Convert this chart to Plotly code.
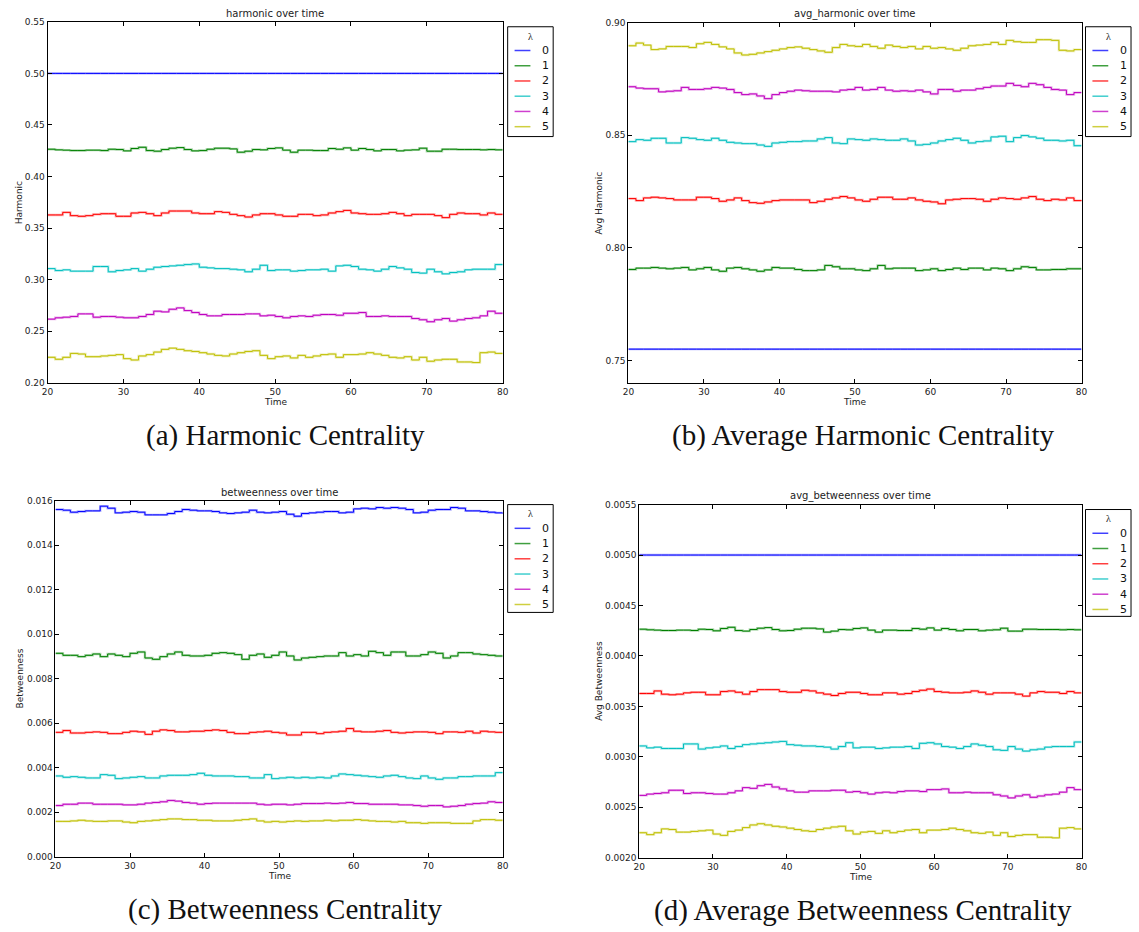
import plotly.graph_objects as go

# ---- data -------------------------------------------------------------
TIME = list(range(20, 81))
LAMBDAS = ["0", "1", "2", "3", "4", "5"]

# harmonic centrality per lambda
harm_0 = [0.5] * len(TIME)
harm_1 = [0.4265, 0.4259, 0.4256, 0.4252, 0.4252, 0.4256, 0.4256, 0.4252, 0.4265, 0.4262,
          0.4249, 0.4272, 0.4284, 0.4252, 0.4246, 0.4262, 0.4275, 0.4281, 0.4262, 0.4249,
          0.4252, 0.4265, 0.4275, 0.4275, 0.4268, 0.4236, 0.4246, 0.4262, 0.4259, 0.4272,
          0.4278, 0.4256, 0.4236, 0.4256, 0.4256, 0.4252, 0.4252, 0.4272, 0.4265, 0.4278,
          0.4256, 0.4272, 0.4262, 0.4249, 0.4262, 0.4262, 0.4249, 0.4256, 0.4259, 0.4275,
          0.4246, 0.4246, 0.4265, 0.4265, 0.4262, 0.4262, 0.4262, 0.4259, 0.4262, 0.4259,
          0.4259]
harm_2 = [0.3628, 0.3628, 0.3653, 0.3621, 0.3615, 0.3621, 0.3634, 0.3640, 0.3640, 0.3615,
          0.3615, 0.3647, 0.3653, 0.3640, 0.3621, 0.3647, 0.3666, 0.3666, 0.3666, 0.3647,
          0.3640, 0.3640, 0.3660, 0.3653, 0.3634, 0.3621, 0.3608, 0.3628, 0.3640, 0.3640,
          0.3628, 0.3615, 0.3615, 0.3634, 0.3634, 0.3621, 0.3628, 0.3647, 0.3660, 0.3672,
          0.3647, 0.3640, 0.3634, 0.3634, 0.3640, 0.3653, 0.3640, 0.3621, 0.3634, 0.3634,
          0.3634, 0.3621, 0.3602, 0.3634, 0.3647, 0.3640, 0.3640, 0.3628, 0.3647, 0.3634,
          0.3634]
harm_3 = [0.3108, 0.3089, 0.3096, 0.3083, 0.3083, 0.3083, 0.3128, 0.3128, 0.3077, 0.3089,
          0.3096, 0.3108, 0.3083, 0.3102, 0.3121, 0.3128, 0.3134, 0.3140, 0.3147, 0.3153,
          0.3121, 0.3115, 0.3108, 0.3108, 0.3102, 0.3096, 0.3077, 0.3102, 0.3140, 0.3089,
          0.3096, 0.3096, 0.3083, 0.3089, 0.3096, 0.3096, 0.3102, 0.3083, 0.3134, 0.3140,
          0.3128, 0.3102, 0.3096, 0.3083, 0.3102, 0.3128, 0.3115, 0.3102, 0.3070, 0.3064,
          0.3102, 0.3077, 0.3057, 0.3070, 0.3077, 0.3096, 0.3102, 0.3102, 0.3102, 0.3147,
          0.3147]
harm_4 = [0.2618, 0.2631, 0.2637, 0.2644, 0.2669, 0.2669, 0.2637, 0.2644, 0.2644, 0.2637,
          0.2631, 0.2631, 0.2644, 0.2663, 0.2695, 0.2688, 0.2714, 0.2727, 0.2701, 0.2682,
          0.2663, 0.2650, 0.2650, 0.2663, 0.2663, 0.2663, 0.2669, 0.2669, 0.2650, 0.2656,
          0.2644, 0.2631, 0.2644, 0.2650, 0.2644, 0.2656, 0.2663, 0.2663, 0.2656, 0.2675,
          0.2675, 0.2682, 0.2644, 0.2644, 0.2650, 0.2644, 0.2644, 0.2644, 0.2624, 0.2612,
          0.2593, 0.2612, 0.2624, 0.2599, 0.2612, 0.2624, 0.2631, 0.2650, 0.2695, 0.2675,
          0.2675]
harm_5 = [0.2248, 0.2229, 0.2248, 0.2286, 0.2280, 0.2254, 0.2254, 0.2261, 0.2267, 0.2274,
          0.2235, 0.2222, 0.2261, 0.2274, 0.2299, 0.2325, 0.2337, 0.2325, 0.2312, 0.2305,
          0.2293, 0.2280, 0.2267, 0.2261, 0.2280, 0.2293, 0.2305, 0.2312, 0.2267, 0.2235,
          0.2254, 0.2261, 0.2242, 0.2267, 0.2248, 0.2261, 0.2274, 0.2280, 0.2248, 0.2274,
          0.2274, 0.2280, 0.2293, 0.2280, 0.2267, 0.2248, 0.2242, 0.2254, 0.2222, 0.2248,
          0.2210, 0.2222, 0.2229, 0.2229, 0.2203, 0.2203, 0.2197, 0.2293, 0.2299, 0.2286,
          0.2286]

# average harmonic centrality per lambda
avg_harm_0 = [0.755] * len(TIME)
avg_harm_1 = [0.7904, 0.7910, 0.7910, 0.7913, 0.7910, 0.7907, 0.7910, 0.7913, 0.7902, 0.7907,
              0.7913, 0.7902, 0.7896, 0.7910, 0.7913, 0.7907, 0.7902, 0.7896, 0.7902, 0.7913,
              0.7910, 0.7910, 0.7904, 0.7899, 0.7899, 0.7902, 0.7922, 0.7916, 0.7907, 0.7907,
              0.7902, 0.7899, 0.7907, 0.7922, 0.7907, 0.7910, 0.7910, 0.7910, 0.7899, 0.7902,
              0.7907, 0.7899, 0.7904, 0.7910, 0.7904, 0.7910, 0.7910, 0.7902, 0.7910, 0.7907,
              0.7899, 0.7907, 0.7916, 0.7913, 0.7902, 0.7902, 0.7904, 0.7904, 0.7907, 0.7907,
              0.7907]
avg_harm_2 = [0.8219, 0.8210, 0.8222, 0.8225, 0.8222, 0.8219, 0.8213, 0.8213, 0.8213, 0.8225,
              0.8225, 0.8219, 0.8207, 0.8213, 0.8222, 0.8210, 0.8201, 0.8198, 0.8204, 0.8210,
              0.8213, 0.8213, 0.8213, 0.8213, 0.8201, 0.8207, 0.8216, 0.8222, 0.8228, 0.8222,
              0.8213, 0.8207, 0.8216, 0.8225, 0.8225, 0.8216, 0.8216, 0.8222, 0.8213, 0.8207,
              0.8204, 0.8196, 0.8213, 0.8216, 0.8219, 0.8219, 0.8216, 0.8207, 0.8216, 0.8222,
              0.8219, 0.8216, 0.8222, 0.8228, 0.8216, 0.8210, 0.8216, 0.8213, 0.8222, 0.8210,
              0.8213]
avg_harm_3 = [0.8472, 0.8481, 0.8478, 0.8487, 0.8487, 0.8466, 0.8466, 0.8490, 0.8487, 0.8481,
              0.8478, 0.8487, 0.8478, 0.8469, 0.8466, 0.8463, 0.8463, 0.8457, 0.8451, 0.8466,
              0.8469, 0.8472, 0.8472, 0.8475, 0.8475, 0.8484, 0.8490, 0.8466, 0.8463, 0.8484,
              0.8481, 0.8478, 0.8484, 0.8481, 0.8478, 0.8478, 0.8484, 0.8475, 0.8457, 0.8460,
              0.8466, 0.8475, 0.8481, 0.8487, 0.8478, 0.8466, 0.8472, 0.8475, 0.8493, 0.8496,
              0.8472, 0.8490, 0.8499, 0.8493, 0.8487, 0.8478, 0.8478, 0.8475, 0.8478, 0.8454,
              0.8454]
avg_harm_4 = [0.8716, 0.8710, 0.8707, 0.8707, 0.8693, 0.8696, 0.8698, 0.8713, 0.8704, 0.8704,
              0.8707, 0.8713, 0.8710, 0.8704, 0.8690, 0.8681, 0.8684, 0.8675, 0.8663, 0.8681,
              0.8690, 0.8696, 0.8701, 0.8698, 0.8696, 0.8696, 0.8696, 0.8693, 0.8701, 0.8704,
              0.8713, 0.8701, 0.8704, 0.8713, 0.8701, 0.8696, 0.8698, 0.8696, 0.8701, 0.8693,
              0.8684, 0.8704, 0.8704, 0.8696, 0.8701, 0.8701, 0.8707, 0.8713, 0.8719, 0.8719,
              0.8731, 0.8722, 0.8716, 0.8731, 0.8725, 0.8713, 0.8704, 0.8701, 0.8681, 0.8690,
              0.8690]
avg_harm_5 = [0.8898, 0.8910, 0.8901, 0.8881, 0.8884, 0.8895, 0.8895, 0.8895, 0.8890, 0.8907,
              0.8913, 0.8904, 0.8893, 0.8884, 0.8866, 0.8857, 0.8860, 0.8866, 0.8872, 0.8878,
              0.8884, 0.8890, 0.8893, 0.8887, 0.8881, 0.8875, 0.8869, 0.8890, 0.8904, 0.8898,
              0.8895, 0.8904, 0.8895, 0.8887, 0.8901, 0.8895, 0.8890, 0.8895, 0.8884, 0.8895,
              0.8887, 0.8890, 0.8884, 0.8878, 0.8887, 0.8898, 0.8901, 0.8904, 0.8913, 0.8904,
              0.8922, 0.8916, 0.8913, 0.8913, 0.8925, 0.8925, 0.8922, 0.8878, 0.8875, 0.8881,
              0.8881]

# betweenness centrality per lambda
betw_0 = [0.01560, 0.01557, 0.01548, 0.01551, 0.01554, 0.01554, 0.01575, 0.01566, 0.01545, 0.01548,
          0.01551, 0.01548, 0.01536, 0.01536, 0.01536, 0.01542, 0.01551, 0.01560, 0.01557, 0.01554,
          0.01554, 0.01551, 0.01545, 0.01542, 0.01545, 0.01548, 0.01557, 0.01548, 0.01545, 0.01548,
          0.01551, 0.01539, 0.01530, 0.01542, 0.01545, 0.01548, 0.01551, 0.01551, 0.01545, 0.01548,
          0.01563, 0.01566, 0.01563, 0.01569, 0.01566, 0.01569, 0.01566, 0.01560, 0.01545, 0.01548,
          0.01557, 0.01560, 0.01560, 0.01569, 0.01566, 0.01554, 0.01554, 0.01551, 0.01548, 0.01545,
          0.01542]
betw_1 = [0.00914, 0.00905, 0.00905, 0.00899, 0.00905, 0.00911, 0.00899, 0.00911, 0.00905, 0.00899,
          0.00914, 0.00920, 0.00893, 0.00887, 0.00899, 0.00911, 0.00920, 0.00905, 0.00902, 0.00902,
          0.00905, 0.00914, 0.00917, 0.00914, 0.00908, 0.00887, 0.00905, 0.00911, 0.00896, 0.00905,
          0.00920, 0.00902, 0.00884, 0.00893, 0.00896, 0.00899, 0.00902, 0.00902, 0.00917, 0.00902,
          0.00908, 0.00902, 0.00923, 0.00917, 0.00905, 0.00920, 0.00920, 0.00902, 0.00902, 0.00908,
          0.00920, 0.00914, 0.00893, 0.00902, 0.00917, 0.00917, 0.00911, 0.00908, 0.00905, 0.00902,
          0.00902]
betw_2 = [0.00559, 0.00567, 0.00556, 0.00556, 0.00559, 0.00561, 0.00559, 0.00553, 0.00553, 0.00559,
          0.00564, 0.00561, 0.00550, 0.00564, 0.00570, 0.00567, 0.00561, 0.00561, 0.00564, 0.00564,
          0.00567, 0.00570, 0.00567, 0.00559, 0.00553, 0.00553, 0.00559, 0.00561, 0.00564, 0.00559,
          0.00556, 0.00547, 0.00547, 0.00559, 0.00559, 0.00553, 0.00559, 0.00561, 0.00564, 0.00576,
          0.00564, 0.00561, 0.00561, 0.00564, 0.00567, 0.00559, 0.00556, 0.00559, 0.00561, 0.00561,
          0.00559, 0.00553, 0.00561, 0.00561, 0.00559, 0.00564, 0.00556, 0.00564, 0.00561, 0.00559,
          0.00559]
betw_3 = [0.00363, 0.00357, 0.00360, 0.00357, 0.00354, 0.00354, 0.00369, 0.00366, 0.00351, 0.00354,
          0.00357, 0.00360, 0.00354, 0.00354, 0.00363, 0.00366, 0.00366, 0.00366, 0.00369, 0.00375,
          0.00366, 0.00363, 0.00363, 0.00363, 0.00360, 0.00360, 0.00354, 0.00354, 0.00369, 0.00351,
          0.00354, 0.00357, 0.00354, 0.00357, 0.00354, 0.00357, 0.00354, 0.00363, 0.00372, 0.00369,
          0.00366, 0.00363, 0.00360, 0.00357, 0.00363, 0.00366, 0.00360, 0.00354, 0.00351, 0.00363,
          0.00354, 0.00348, 0.00354, 0.00354, 0.00360, 0.00360, 0.00363, 0.00363, 0.00363, 0.00378,
          0.00378]
betw_4 = [0.00230, 0.00236, 0.00236, 0.00241, 0.00241, 0.00236, 0.00236, 0.00236, 0.00236, 0.00233,
          0.00233, 0.00236, 0.00241, 0.00244, 0.00247, 0.00253, 0.00250, 0.00244, 0.00241, 0.00236,
          0.00239, 0.00241, 0.00241, 0.00241, 0.00241, 0.00241, 0.00241, 0.00236, 0.00233, 0.00236,
          0.00236, 0.00233, 0.00236, 0.00239, 0.00239, 0.00239, 0.00241, 0.00239, 0.00241, 0.00244,
          0.00239, 0.00239, 0.00236, 0.00236, 0.00236, 0.00236, 0.00233, 0.00233, 0.00230, 0.00227,
          0.00230, 0.00230, 0.00224, 0.00227, 0.00230, 0.00236, 0.00239, 0.00241, 0.00247, 0.00244,
          0.00244]
betw_5 = [0.00159, 0.00159, 0.00161, 0.00164, 0.00161, 0.00159, 0.00159, 0.00161, 0.00161, 0.00156,
          0.00153, 0.00159, 0.00161, 0.00164, 0.00167, 0.00170, 0.00170, 0.00167, 0.00167, 0.00164,
          0.00164, 0.00161, 0.00161, 0.00161, 0.00164, 0.00167, 0.00170, 0.00161, 0.00156, 0.00159,
          0.00156, 0.00159, 0.00161, 0.00159, 0.00161, 0.00161, 0.00164, 0.00161, 0.00164, 0.00164,
          0.00167, 0.00164, 0.00161, 0.00159, 0.00159, 0.00156, 0.00159, 0.00153, 0.00153, 0.00150,
          0.00153, 0.00153, 0.00153, 0.00150, 0.00150, 0.00150, 0.00161, 0.00167, 0.00167, 0.00164,
          0.00164]

# average betweenness centrality per lambda
avg_betw_0 = [0.005] * len(TIME)
avg_betw_1 = [0.004265, 0.004259, 0.004256, 0.004252, 0.004252, 0.004256, 0.004256, 0.004252, 0.004265, 0.004262,
              0.004249, 0.004272, 0.004284, 0.004252, 0.004246, 0.004262, 0.004275, 0.004281, 0.004262, 0.004249,
              0.004252, 0.004265, 0.004275, 0.004275, 0.004268, 0.004236, 0.004246, 0.004262, 0.004259, 0.004272,
              0.004278, 0.004256, 0.004236, 0.004256, 0.004256, 0.004252, 0.004252, 0.004272, 0.004265, 0.004278,
              0.004256, 0.004272, 0.004262, 0.004249, 0.004262, 0.004262, 0.004249, 0.004256, 0.004259, 0.004275,
              0.004246, 0.004246, 0.004265, 0.004265, 0.004262, 0.004262, 0.004262, 0.004259, 0.004262, 0.004259,
              0.004259]
avg_betw_2 = [0.003628, 0.003628, 0.003653, 0.003621, 0.003615, 0.003621, 0.003634, 0.003640, 0.003640, 0.003615,
              0.003615, 0.003647, 0.003653, 0.003640, 0.003621, 0.003647, 0.003666, 0.003666, 0.003666, 0.003647,
              0.003640, 0.003640, 0.003660, 0.003653, 0.003634, 0.003621, 0.003608, 0.003628, 0.003640, 0.003640,
              0.003628, 0.003615, 0.003615, 0.003634, 0.003634, 0.003621, 0.003628, 0.003647, 0.003660, 0.003672,
              0.003647, 0.003640, 0.003634, 0.003634, 0.003640, 0.003653, 0.003640, 0.003621, 0.003634, 0.003634,
              0.003634, 0.003621, 0.003602, 0.003634, 0.003647, 0.003640, 0.003640, 0.003628, 0.003647, 0.003634,
              0.003634]
avg_betw_3 = [0.003108, 0.003089, 0.003096, 0.003083, 0.003083, 0.003083, 0.003128, 0.003128, 0.003077, 0.003089,
              0.003096, 0.003108, 0.003083, 0.003102, 0.003121, 0.003128, 0.003134, 0.003140, 0.003147, 0.003153,
              0.003121, 0.003115, 0.003108, 0.003108, 0.003102, 0.003096, 0.003077, 0.003102, 0.003140, 0.003089,
              0.003096, 0.003096, 0.003083, 0.003089, 0.003096, 0.003096, 0.003102, 0.003083, 0.003134, 0.003140,
              0.003128, 0.003102, 0.003096, 0.003083, 0.003102, 0.003128, 0.003115, 0.003102, 0.003070, 0.003064,
              0.003102, 0.003077, 0.003057, 0.003070, 0.003077, 0.003096, 0.003102, 0.003102, 0.003102, 0.003147,
              0.003147]
avg_betw_4 = [0.002618, 0.002631, 0.002637, 0.002644, 0.002669, 0.002669, 0.002637, 0.002644, 0.002644, 0.002637,
              0.002631, 0.002631, 0.002644, 0.002663, 0.002695, 0.002688, 0.002714, 0.002727, 0.002701, 0.002682,
              0.002663, 0.002650, 0.002650, 0.002663, 0.002663, 0.002663, 0.002669, 0.002669, 0.002650, 0.002656,
              0.002644, 0.002631, 0.002644, 0.002650, 0.002644, 0.002656, 0.002663, 0.002663, 0.002656, 0.002675,
              0.002675, 0.002682, 0.002644, 0.002644, 0.002650, 0.002644, 0.002644, 0.002644, 0.002624, 0.002612,
              0.002593, 0.002612, 0.002624, 0.002599, 0.002612, 0.002624, 0.002631, 0.002650, 0.002695, 0.002675,
              0.002675]
avg_betw_5 = [0.002248, 0.002229, 0.002248, 0.002286, 0.002280, 0.002254, 0.002254, 0.002261, 0.002267, 0.002274,
              0.002235, 0.002222, 0.002261, 0.002274, 0.002299, 0.002325, 0.002337, 0.002325, 0.002312, 0.002305,
              0.002293, 0.002280, 0.002267, 0.002261, 0.002280, 0.002293, 0.002305, 0.002312, 0.002267, 0.002235,
              0.002254, 0.002261, 0.002242, 0.002267, 0.002248, 0.002261, 0.002274, 0.002280, 0.002248, 0.002274,
              0.002274, 0.002280, 0.002293, 0.002280, 0.002267, 0.002248, 0.002242, 0.002254, 0.002222, 0.002248,
              0.002210, 0.002222, 0.002229, 0.002229, 0.002203, 0.002203, 0.002197, 0.002293, 0.002299, 0.002286,
              0.002286]

HARM_TICKS = [0.20, 0.25, 0.30, 0.35, 0.40, 0.45, 0.50, 0.55]
AVG_HARM_TICKS = [0.75, 0.80, 0.85, 0.90]
BETW_TICKS = [0.000, 0.002, 0.004, 0.006, 0.008, 0.010, 0.012, 0.014, 0.016]
AVG_BETW_TICKS = [0.0020, 0.0025, 0.0030, 0.0035, 0.0040, 0.0045, 0.0050, 0.0055]
TIME_TICKS = [20, 30, 40, 50, 60, 70, 80]

# ---- styling ------------------------------------------------------------
W, H = 1139, 932
COLORS = ["#0000ff", "#008000", "#ff0000", "#00bfbf", "#bf00bf", "#bfbf00"]
SANS = "DejaVu Sans"
SERIF = "Liberation Serif"


def px(x):
    return x / W


def py(y):
    return 1 - y / H


panels = [
    dict(series=[harm_0, harm_1, harm_2, harm_3, harm_4, harm_5],
         title="harmonic over time", ylabel="Harmonic",
         caption="(a) Harmonic Centrality",
         box=(42, 502, 17, 382), yrange=[0.20, 0.55], ticks=HARM_TICKS, fmt=".2f",
         ylab_x=13, legend_box=(507, 22, 111)),
    dict(series=[avg_harm_0, avg_harm_1, avg_harm_2, avg_harm_3, avg_harm_4, avg_harm_5],
         title="avg_harmonic over time", ylabel="Avg Harmonic",
         caption="(b) Average Harmonic Centrality",
         box=(629, 1087, 18, 382), yrange=[0.74, 0.90], ticks=AVG_HARM_TICKS, fmt=".2f",
         ylab_x=599, legend_box=(1091, 22, 111)),
    dict(series=[betw_0, betw_1, betw_2, betw_3, betw_4, betw_5],
         title="betweenness over time", ylabel="Betweenness",
         caption="(c) Betweenness Centrality",
         box=(50, 502, 501, 861), yrange=[0.0, 0.016], ticks=BETW_TICKS, fmt=".3f",
         ylab_x=14, legend_box=(507, 505, 109)),
    dict(series=[avg_betw_0, avg_betw_1, avg_betw_2, avg_betw_3, avg_betw_4, avg_betw_5],
         title="avg_betweenness over time", ylabel="Avg Betweenness",
         caption="(d) Average Betweenness Centrality",
         box=(640, 1087, 505, 862), yrange=[0.0020, 0.0055], ticks=AVG_BETW_TICKS, fmt=".4f",
         ylab_x=599, legend_box=(1091, 510, 108)),
]

fig = go.Figure()
annotations = []
shapes = []
layout_axes = {}

for i, p in enumerate(panels):
    n = "" if i == 0 else str(i + 1)
    xa, ya = "x" + n, "y" + n
    x0, x1, y0, y1 = p["box"]

    for k, (vals, col) in enumerate(zip(p["series"], COLORS)):
        xs = TIME[:len(vals)]
        # soft halo underneath each step line
        fig.add_trace(go.Scatter(
            x=xs, y=vals, mode="lines", line=dict(color=col, width=2.4, shape="hv"),
            opacity=0.3, xaxis=xa, yaxis=ya, showlegend=False, hoverinfo="skip"))
        fig.add_trace(go.Scatter(
            x=xs, y=vals, mode="lines", name=LAMBDAS[k],
            line=dict(color=col, width=1, shape="hv"),
            xaxis=xa, yaxis=ya, showlegend=False))

    axis_common = dict(showline=True, linecolor="black", linewidth=1, mirror="ticks",
                       ticks="inside", ticklen=4, tickcolor="black", tickwidth=1,
                       showgrid=False, zeroline=False,
                       tickfont=dict(family=SANS, size=9, color="#222"))
    layout_axes["xaxis" + n] = dict(
        axis_common, domain=[px(x0), px(x1)], anchor=ya, range=[20, 80],
        tickvals=TIME_TICKS)
    layout_axes["yaxis" + n] = dict(
        axis_common, domain=[py(y1), py(y0)], anchor=xa, range=p["yrange"],
        tickvals=p["ticks"], tickformat=p["fmt"])

    # legend box: title lambda, then one short line sample + label per series
    lx, ly, lh = p["legend_box"]
    lw = 46
    shapes.append(dict(type="rect", xref="paper", yref="paper",
                       x0=px(lx), x1=px(lx + lw), y0=py(ly + lh), y1=py(ly),
                       line=dict(color="black", width=1), fillcolor="white", layer="above"))
    annotations.append(dict(text="λ", x=px(lx + lw / 2), y=py(ly + 9.5), xref="paper", yref="paper",
                            xanchor="center", yanchor="middle", showarrow=False,
                            font=dict(family=SERIF, size=10, color="#222")))
    for k, col in enumerate(COLORS):
        ey = ly + 24 + k * 15.4
        shapes.append(dict(type="line", xref="paper", yref="paper",
                           x0=px(lx + 7), x1=px(lx + 23), y0=py(ey), y1=py(ey),
                           line=dict(color=col, width=1.5), opacity=0.75, layer="above"))
        annotations.append(dict(text=LAMBDAS[k], x=px(lx + 38), y=py(ey), xref="paper", yref="paper",
                                xanchor="center", yanchor="middle", showarrow=False,
                                font=dict(family=SANS, size=11, color="#111")))

    cx = (x0 + x1) / 2
    annotations.append(dict(text=p["title"], x=px(cx), y=py(y0 - 1), xref="paper", yref="paper",
                            xanchor="center", yanchor="bottom", showarrow=False,
                            font=dict(family=SANS, size=10, color="#222")))
    annotations.append(dict(text="Time", x=px(cx), y=py(y1 + 12), xref="paper", yref="paper",
                            xanchor="center", yanchor="top", showarrow=False,
                            font=dict(family=SANS, size=9, color="#222")))
    annotations.append(dict(text=p["ylabel"], x=px(p["ylab_x"]), y=py((y0 + y1) / 2),
                            xref="paper", yref="paper", xanchor="center", yanchor="middle",
                            textangle=-90, showarrow=False,
                            font=dict(family=SANS, size=9, color="#222")))
    annotations.append(dict(text=p["caption"], x=px(282 if i % 2 == 0 else 866),
                            y=py(y1 + 53), xref="paper", yref="paper",
                            xanchor="center", yanchor="middle", showarrow=False,
                            font=dict(family=SERIF, size=29, color="#111")))

fig.update_layout(
    width=W, height=H, margin=dict(l=0, r=0, t=0, b=0),
    paper_bgcolor="white", plot_bgcolor="white", showlegend=False,
    annotations=annotations, shapes=shapes, **layout_axes)

fig.write_html("out.html")
